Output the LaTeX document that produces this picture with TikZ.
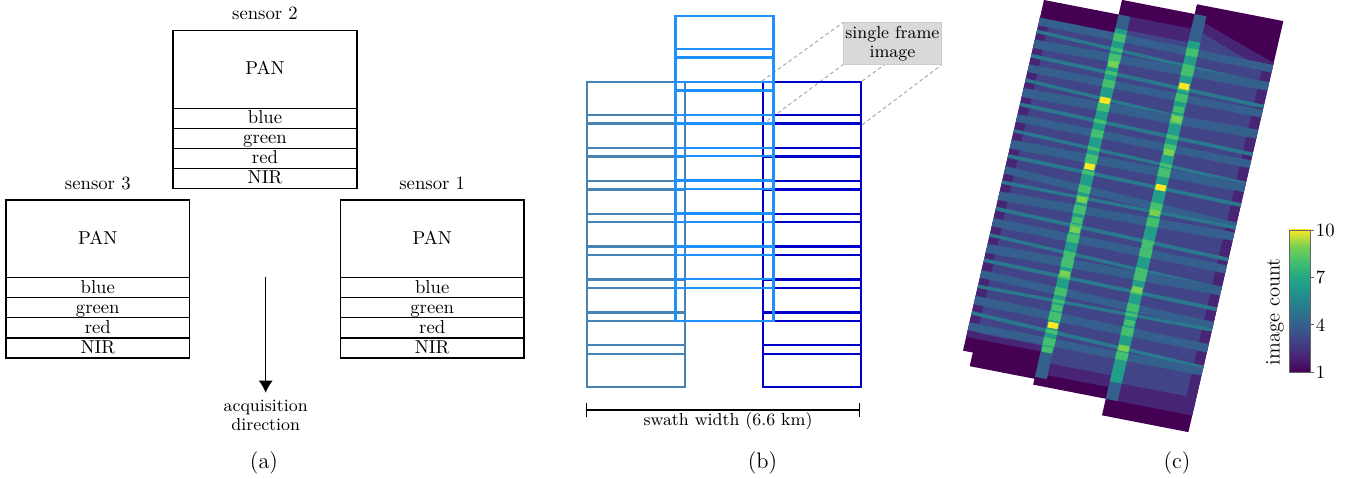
\documentclass[tikz,border=0pt]{standalone}
\usetikzlibrary{arrows.meta, positioning}

\pgfdeclarelayer{back}
\pgfsetlayers{back,main}

% Colours

\definecolor{vir1}{HTML}{440154}	% viridis, one step per image count
\definecolor{vir2}{HTML}{482475}
\definecolor{vir3}{HTML}{414487}
\definecolor{vir4}{HTML}{355F8D}
\definecolor{vir5}{HTML}{2A788E}
\definecolor{vir6}{HTML}{21918C}
\definecolor{vir7}{HTML}{22A884}
\definecolor{vir8}{HTML}{44BF70}
\definecolor{vir9}{HTML}{7AD151}
\definecolor{vir10}{HTML}{FDE725}

\definecolor{stripL}{HTML}{4682B4}
\definecolor{stripM}{HTML}{1E90FF}
\definecolor{stripR}{HTML}{0000CD}

% the path covers the part from 25bp to 75bp
\pgfdeclareverticalshading{viridis}{100bp}{color(0bp)=(vir1); color(25bp)=(vir1); color(30.56bp)=(vir2); color(36.11bp)=(vir3); color(41.67bp)=(vir4); color(47.22bp)=(vir5); color(52.78bp)=(vir6); color(58.33bp)=(vir7); color(63.89bp)=(vir8); color(69.44bp)=(vir9); color(75bp)=(vir10); color(100bp)=(vir10)}

\def\px{0.5348pt}	% one unit of the layout grid

\tikzset{
	band/.style = {inner sep = 0pt, anchor = north,
		minimum width = 183*\px, minimum height = 19.3*\px,
		text height = 7pt, text depth = 1.3pt},
	pan/.style = {band, minimum height = 77*\px},
	frame/.style = {draw, line width = 1.2pt, inner sep = 0pt, anchor = north west,
		minimum width = 98*\px, minimum height = 41.5*\px},
}

\begin{document}
\begin{tikzpicture}[x = \px, y = -\px, > = {Latex[length = 6.4pt, width = 7.5pt]}]

	\useasboundingbox (0, 0) rectangle (1363, 479);

	% (a) Sensor layout

	\foreach \s/\x/\y in {2/265/30.5, 3/97.8/200, 1/432.2/200} {
		\node [pan] (pan\s) at (\x, \y) {PAN};
		\node [band] (blue\s) at (pan\s.south) {blue};
		\node [band] (green\s) at (blue\s.south) {green};
		\node [band] (red\s) at (green\s.south) {red};
		\node [band] (nir\s) at (red\s.south) {NIR};
		\node [above = 2pt of pan\s] (name\s) {sensor \s};
		\begin{scope}[line width = 0.7pt]
			\draw (pan\s.north west) rectangle (nir\s.south east);
			\draw (blue\s.north west) -- (blue\s.north east);
			\draw (green\s.north west) -- (green\s.north east);
			\draw (red\s.north west) -- (red\s.north east);
			\draw (nir\s.north west) -- (nir\s.north east);
		\end{scope}
	}

	\coordinate (acqtop) at (265.7, 276.7);
	\node [align = center, anchor = north, inner sep = 3.5pt, font = \fontsize{9.3}{10.2}\selectfont]
		(acq) at (265.7, 392.7) {acquisition\\direction};
	\draw [->, line width = 0.7pt] (acqtop) -- (acq);

	\node [font = \large] (capA) at (264, 462.5) {(a)};

	% (b) Frames of the three sensors along the swath

	\foreach \k in {0, ..., 8} {
		\node [frame, draw = stripL] (L\k) at ({586}, {81 + 32.9*\k}) {};
		\node [frame, draw = stripR] (R\k) at ({762}, {81 + 32.9*\k}) {};
	}
	\foreach \k in {0, ..., 8}
		\node [frame, draw = stripM] (M\k) at ({674.3}, {15 + 32.9*\k}) {};

	\node [frame, fill = black!15, draw = black!20, line width = 0.4pt, align = center,
		font = \fontsize{9.3}{10.2}\selectfont] (sfi) at (843, 22.5) {single frame\\image};

	\begin{pgfonlayer}{back}
		\begin{scope}[black!35, dash pattern = on 2pt off 1.5pt, line width = 0.5pt]
			\draw (R0.north west) -- (sfi.north west);
			\draw (R0.south west) -- (sfi.south west);
			\draw (R0.north east) -- (sfi.north east);
			\draw (R0.south east) -- (sfi.south east);
		\end{scope}
	\end{pgfonlayer}

	\coordinate (swL) at (586, 410);
	\coordinate (swR) at (860, 410);
	\draw [{Bar[width = 8pt]}-{Bar[width = 8pt]}, line width = 0.6pt] (swL) -- (swR);
	\node [font = \fontsize{9.3}{11}\selectfont] (swath) at (728, 421) {swath width (6.6 km)};

	\node [font = \large] (capB) at (762.5, 462.5) {(b)};

	% (c) Image count over the covered area
	% u runs across the swath, v along the flight direction

	\begin{scope}[cm = {0.982, -0.191, 0.225, 0.974, (1044, 0)}]

		% single coverage
		\fill [vir1] (0, 0) rectangle (88, 360);
		\fill [vir1] (10, 330) rectangle (88, 374);
		\fill [vir1] (76, -15) rectangle (162, 380);
		\fill [vir1] (150, -25) rectangle (238, 397);

		% double coverage
		\fill [vir2] (0, 18) rectangle (88, 346);
		\fill [vir2] (76, 0) rectangle (162, 368);
		\fill [vir2] (150, -12) -- (238, 18) -- (238, 380) -- (150, 380) -- cycle;

		% bulk of each strip
		\fill [vir3] (10, 20) rectangle (88, 340);
		\fill [vir3] (76, 14) rectangle (162, 356);
		\fill [vir3] (150, -2) -- (228, 26) -- (228, 362) -- (150, 362) -- cycle;

		% overlaps of consecutive frames
		\def\stripes{22/2/4.2/vir4, 32/9/1.8/vir5, 45/-3/4.6/vir4, 57/6/2.0/vir5, 70/0/4.2/vir4,
			82/11/1.8/vir5, 95/-4/4.8/vir4, 107/5/2.0/vir5, 121/1/4.2/vir4, 134/8/1.8/vir5,
			148/-2/4.8/vir4, 160/4/2.0/vir5, 174/12/4.0/vir4, 187/0/1.8/vir5, 201/-5/4.6/vir4,
			214/6/2.0/vir5, 228/2/4.4/vir4, 241/9/1.8/vir5, 255/-3/4.8/vir4, 267/4/2.0/vir5,
			281/7/4.2/vir4, 294/-2/1.8/vir5, 308/3/4.6/vir4, 321/10/2.0/vir5, 335/0/4.2/vir4}

		\begin{scope}
			\clip (0, 18) rectangle (88, 346) (76, 0) rectangle (162, 368) (150, 0) rectangle (238, 380);
			\foreach \sv/\sd/\sw/\sc in \stripes
				\draw [\sc, line width = \sw pt] (-5, \sv) -- ({245}, {\sv + \sd});
		\end{scope}

		% overlaps of neighbouring strips
		\fill [vir4] (76, 0) rectangle (88, 372);
		\fill [vir4] (150, -15) rectangle (162, 380);
		\fill [vir6!50!vir7] (76, 14) rectangle (88, 345);
		\fill [vir6!50!vir7] (150, 12) rectangle (162, 362);

		\begin{scope}
			\clip (76, 14) rectangle (88, 345) (150, 12) rectangle (162, 362);
			\foreach \sv/\sd/\sw/\sc in \stripes
				\draw [vir8, line width = \sw pt] (-5, \sv) -- ({245}, {\sv + \sd});
		\end{scope}

		\foreach \sv/\sc in {50/vir9, 87/vir10, 121/vir8, 155/vir10, 189/vir9, 210/vir8,
			220/vir9, 247/vir8, 265/vir9, 300/vir8, 318/vir10, 343/vir8}
			\fill [\sc] (77, {\sv - 3}) rectangle (87, {\sv + 3});
		\foreach \sv/\sc in {24/vir8, 58/vir10, 82/vir8, 92/vir9, 126/vir9, 162/vir10,
			188/vir9, 222/vir8, 267/vir9, 301/vir8, 327/vir9}
			\fill [\sc] (151, {\sv - 3}) rectangle (161, {\sv + 3});

	\end{scope}

	% Colour bar

	\coordinate (cbBL) at (1289.3, 372.3);
	\coordinate (cbTR) at (1310.7, 230);
	\shade [shading = viridis] (cbBL) rectangle (cbTR);
	\draw [black!60, line width = 0.4pt] (cbBL) rectangle (cbTR);
	\foreach \cnt in {1, 4, 7, 10}
		\draw [black!60, line width = 0.4pt] ({1310.7}, {372.3 - 15.81*(\cnt - 1)}) -- ++(3, 0)
			node [right, inner sep = 1pt, text = black] {\cnt};
	\node [rotate = 90, font = \fontsize{11}{13}\selectfont] (cblabel) at (1275, 311.7) {image count};

	\node [font = \large] (capC) at (1177, 462.5) {(c)};

\end{tikzpicture}
\end{document}
